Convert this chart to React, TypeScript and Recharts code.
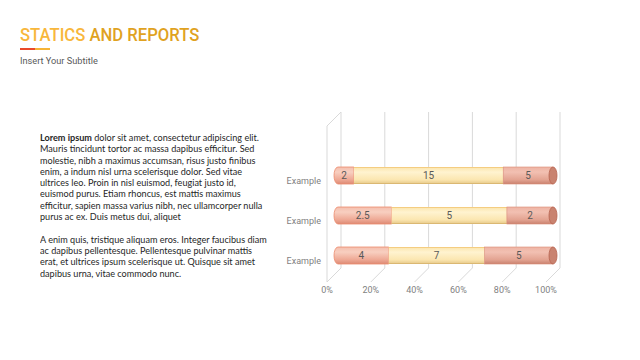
import React from "react";
import {
  BarChart,
  Bar,
  XAxis,
  YAxis,
  CartesianGrid,
  LabelList,
} from "recharts";

const categories = ["Example", "Example", "Example"];
const seriesA = [2, 2.5, 4];
const seriesB = [15, 5, 7];
const seriesC = [5, 2, 5];
const percentTicks = [0, 0.2, 0.4, 0.6, 0.8, 1];

const paragraphOne = [
  "dolor sit amet, consectetur adipiscing elit.",
  "Mauris tincidunt tortor ac massa dapibus efficitur. Sed",
  "molestie, nibh a maximus accumsan, risus justo finibus",
  "enim, a indum nisl urna scelerisque dolor. Sed vitae",
  "ultrices leo. Proin in nisl euismod, feugiat justo id,",
  "euismod purus. Etiam rhoncus, est mattis maximus",
  "efficitur, sapien massa varius nibh, nec ullamcorper nulla",
  "purus ac ex. Duis metus dui, aliquet",
];
const paragraphTwo = [
  "A enim quis, tristique aliquam eros. Integer faucibus diam",
  "ac dapibus pellentesque. Pellentesque pulvinar mattis",
  "erat, et ultrices ipsum scelerisque ut. Quisque sit amet",
  "dapibus urna, vitae commodo nunc.",
];

const data = categories.map((name, i) => ({
  name,
  a: seriesA[i],
  b: seriesB[i],
  c: seriesC[i],
}));

const DEPTH = 7;
const gridColor = "#d9d9d9";

// first segment: rounded left end
const LeftPiece = (props: any) => {
  const { x, y, width, height } = props;
  const rx = 4;
  const ry = height / 2;
  const d = `M${x + rx},${y} H${x + width} V${y + height} H${x + rx} A${rx},${ry} 0 0 1 ${x + rx},${y} Z`;
  return <path d={d} fill="url(#gradA)" stroke="#ec8a6c" strokeWidth={0.8} />;
};

const MiddlePiece = (props: any) => {
  const { x, y, width, height } = props;
  return (
    <g>
      <rect x={x} y={y} width={width} height={height} fill="url(#gradB)" />
      <line x1={x} y1={y + 0.5} x2={x + width} y2={y + 0.5} stroke="#f3c775" strokeWidth={0.8} />
      <line x1={x} y1={y + height - 0.5} x2={x + width} y2={y + height - 0.5} stroke="#d7b36c" strokeWidth={0.8} />
    </g>
  );
};

// last segment: darker elliptical end cap
const RightPiece = (props: any) => {
  const { x, y, width, height } = props;
  const ry = height / 2;
  return (
    <g>
      <rect x={x} y={y} width={width} height={height} fill="url(#gradC)" stroke="#d98a74" strokeWidth={0.6} />
      <ellipse cx={x + width} cy={y + ry} rx={4} ry={ry} fill="#c98370" stroke="#b7634f" strokeWidth={0.8} />
    </g>
  );
};

const GridLine = (props: any) => {
  const { x1, index } = props;
  const top = 112;
  const floor = 268;
  return (
    <g key={`g-${index}`}>
      <line x1={x1 + DEPTH} y1={top} x2={x1 + DEPTH} y2={floor} stroke={gridColor} />
      <line x1={x1 + DEPTH} y1={floor} x2={x1 - DEPTH} y2={floor + 2 * DEPTH} stroke={gridColor} />
      {index === 0 && (
        <g>
          <line x1={x1 - DEPTH} y1={top + 2 * DEPTH} x2={x1 - DEPTH} y2={floor + 2 * DEPTH} stroke={gridColor} />
          <line x1={x1 - DEPTH} y1={top + 2 * DEPTH} x2={x1 + DEPTH} y2={top} stroke={gridColor} />
        </g>
      )}
    </g>
  );
};

const CategoryTick = (props: any) => {
  const { x, y, payload } = props;
  return (
    <text x={x - 5} y={y + 9} textAnchor="end" fontSize={9} fill="#7f7f7f" fontFamily="Roboto, sans-serif">
      {payload.value}
    </text>
  );
};

const PercentTick = (props: any) => {
  const { x, payload } = props;
  return (
    <text x={x - DEPTH} y={293} textAnchor="middle" fontSize={9} fill="#7f7f7f" fontFamily="Roboto, sans-serif">
      {`${Math.round(payload.value * 100)}%`}
    </text>
  );
};

const labelStyle = { fontSize: 10, fill: "#595959", fontFamily: "Roboto, sans-serif" };

export default function App() {
  return (
    <div style={{ position: "absolute", left: 0, top: 0, width: 640, height: 360, background: "#fff", overflow: "hidden" }}>
      <div
        style={{
          position: "absolute",
          left: 20,
          top: 24,
          fontFamily: "Roboto, sans-serif",
          fontWeight: 500,
          fontSize: 18.5,
          whiteSpace: "nowrap",
          transform: "scaleX(0.9)",
          transformOrigin: "left top",
        }}
      >
        <span style={{ color: "#f8b73c" }}>STATICS </span>
        <span style={{ color: "#e0a21f" }}>AND REPORTS</span>
      </div>
      <div style={{ position: "absolute", left: 20, top: 48, width: 15, height: 2, background: "#ea4a2a" }} />
      <div style={{ position: "absolute", left: 35, top: 48, width: 15, height: 2, background: "#f6b436" }} />
      <div style={{ position: "absolute", left: 20, top: 55, fontFamily: "Roboto, sans-serif", fontSize: 9.2, color: "#595959", whiteSpace: "nowrap" }}>
        Insert Your Subtitle
      </div>

      <div
        style={{
          position: "absolute",
          left: 40,
          top: 132,
          fontFamily: "Lato, sans-serif",
          fontSize: 10,
          lineHeight: "11.3px",
          color: "#262626",
          whiteSpace: "nowrap",
          transform: "scaleX(0.91)",
          transformOrigin: "left top",
        }}
      >
        {paragraphOne.map((line, i) => (
          <div key={i}>
            {i === 0 && <b>Lorem ipsum </b>}
            {line}
          </div>
        ))}
        <div style={{ height: 11.3 }} />
        {paragraphTwo.map((line, i) => (
          <div key={i}>{line}</div>
        ))}
      </div>

      <div style={{ position: "absolute", left: 0, top: 0 }}>
        <BarChart
          width={640}
          height={360}
          data={data}
          layout="vertical"
          stackOffset="expand"
          barSize={17}
          margin={{ top: 155, right: 87, bottom: 55, left: 274 }}
        >
          <defs>
            <linearGradient id="gradA" x1="0" y1="0" x2="0" y2="1">
              <stop offset="0" stopColor="#f4bfae" />
              <stop offset="0.3" stopColor="#f8cfc0" />
              <stop offset="0.75" stopColor="#eea894" />
              <stop offset="1" stopColor="#dc8a74" />
            </linearGradient>
            <linearGradient id="gradB" x1="0" y1="0" x2="0" y2="1">
              <stop offset="0" stopColor="#fbe4aa" />
              <stop offset="0.3" stopColor="#fff3d0" />
              <stop offset="0.75" stopColor="#fbe6b0" />
              <stop offset="1" stopColor="#e5c787" />
            </linearGradient>
            <linearGradient id="gradC" x1="0" y1="0" x2="0" y2="1">
              <stop offset="0" stopColor="#eeb4a4" />
              <stop offset="0.3" stopColor="#f2c0b2" />
              <stop offset="0.75" stopColor="#e3a391" />
              <stop offset="1" stopColor="#c98270" />
            </linearGradient>
          </defs>
          <CartesianGrid horizontal={false} vertical={GridLine} />
          <XAxis
            type="number"
            domain={[0, 1]}
            ticks={percentTicks}
            axisLine={false}
            tickLine={false}
            tick={PercentTick}
            height={30}
          />
          <YAxis
            type="category"
            dataKey="name"
            axisLine={false}
            tickLine={false}
            tick={CategoryTick}
            width={60}
          />
          <Bar dataKey="a" stackId="s" shape={LeftPiece} isAnimationActive={false}>
            <LabelList dataKey="a" position="center" style={labelStyle} />
          </Bar>
          <Bar dataKey="b" stackId="s" shape={MiddlePiece} isAnimationActive={false}>
            <LabelList dataKey="b" position="center" style={labelStyle} />
          </Bar>
          <Bar dataKey="c" stackId="s" shape={RightPiece} isAnimationActive={false}>
            <LabelList dataKey="c" position="center" style={labelStyle} />
          </Bar>
        </BarChart>
      </div>
    </div>
  );
}
